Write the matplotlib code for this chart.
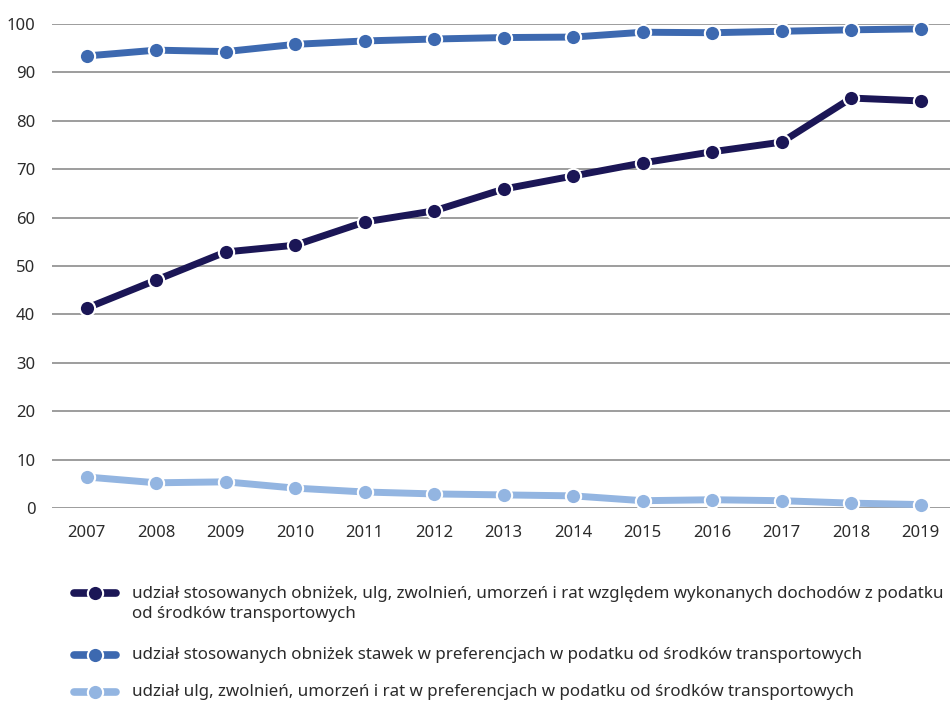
import matplotlib.pyplot as plt
from matplotlib.lines import Line2D

plt.rcParams['font.family'] = ['Noto Sans', 'DejaVu Sans']

years = [2007, 2008, 2009, 2010, 2011, 2012, 2013, 2014, 2015, 2016, 2017, 2018, 2019]
share_all = [41.3, 47.1, 52.9, 54.3, 59.1, 61.4, 65.9, 68.6, 71.3, 73.6, 75.6, 84.7, 84.1]
share_rates = [93.4, 94.6, 94.3, 95.8, 96.5, 96.9, 97.2, 97.3, 98.3, 98.2, 98.5, 98.8, 99.0]
share_reliefs = [6.4, 5.2, 5.4, 4.1, 3.3, 2.9, 2.7, 2.5, 1.5, 1.7, 1.5, 1.0, 0.7]

labels = [
    "udział stosowanych obniżek, ulg, zwolnień, umorzeń i rat względem wykonanych dochodów z podatku\nod środków transportowych",
    "udział stosowanych obniżek stawek w preferencjach w podatku od środków transportowych",
    "udział ulg, zwolnień, umorzeń i rat w preferencjach w podatku od środków transportowych",
]
colors = ["#1b1656", "#3d69b0", "#93b5e1"]
series = [share_all, share_rates, share_reliefs]

fig = plt.figure(figsize=(9.5, 7.02), dpi=100)
ax = fig.add_axes([0.0547, 0.2764, 0.9453, 0.6894])

for vals, c in zip(series, colors):
    ax.plot(years, vals, color=c, lw=5, marker='o', ms=11,
            mfc=c, mec='white', mew=1.5, clip_on=False, zorder=3)

ax.set_xlim(2006.5, 2019.42)
ax.set_ylim(0, 100)
ax.set_yticks(range(0, 101, 10))
ax.set_xticks(years)
ax.grid(axis='y', color='#8c8c8c', lw=1.2)
ax.set_axisbelow(True)
for s in ax.spines.values():
    s.set_visible(False)
ax.tick_params(length=0, labelsize=12, colors='#2b2b2b')
ax.tick_params(axis='y', pad=12)
ax.tick_params(axis='x', pad=12)

# legend drawn by hand so the handle sits on the first text line
handle_y = [593, 655, 692]
text_y = [604, 655, 692]
for hy, ty, c, lab in zip(handle_y, text_y, colors, labels):
    fy = 1 - hy / 702
    fig.add_artist(Line2D([74 / 950, 116 / 950], [fy, fy], transform=fig.transFigure,
                          color=c, lw=5.5, solid_capstyle='round'))
    fig.add_artist(Line2D([95 / 950], [fy], transform=fig.transFigure, color=c,
                          marker='o', ms=11, mfc=c, mec='white', mew=1.5))
    fig.text(132 / 950, 1 - ty / 702, lab, fontsize=12.2, color='#2b2b2b',
             va='center', linespacing=1.3)

fig.savefig("out.png", dpi=100)
